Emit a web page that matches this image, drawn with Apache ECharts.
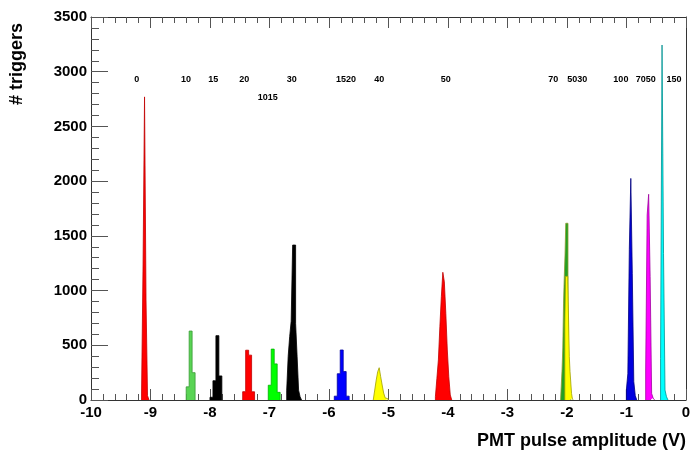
<!DOCTYPE html>
<html><head><meta charset="utf-8">
<script src="https://cdn.jsdelivr.net/npm/echarts@6/dist/echarts.min.js"></script>
<style>html,body{margin:0;padding:0;background:#fff}#c{width:693px;height:458px}</style>
</head><body><div id="c"></div>
<script>
// ---- data ----
const histNames = ['0','10','15','20','1015','30','1520','40','50','70','5030','100','7050','150'];
const histStart = [-9.15, -8.40, -8.00, -7.45, -7.02, -6.71, -5.91, -5.255, -4.21, -2.106, -2.034, -1.00, -0.675, -0.425];
const histWidth = [0.025, 0.05, 0.05, 0.05, 0.05, 0.025, 0.05, 0.025, 0.025, 0.0125, 0.0125, 0.025, 0.025, 0.025];
const cRed0      = [55, 1234, 2770, 914, 40];
const cGreen10   = [120, 630, 250];
const cBlack15   = [25, 176, 588, 220];
const cRed20     = [76, 455, 410, 75];
const cGreen1015 = [135, 465, 330, 70];
const cBlack30   = [90, 400, 580, 720, 1416, 1416, 700, 400, 90, 30];
const cBlue1520  = [35, 240, 457, 260, 35];
const cYellow40  = [18, 91, 183, 259, 295, 213, 137, 64, 20, 10];
const cRed50     = [30, 198, 366, 670, 944, 1167, 1080, 792, 457, 213, 46];
const cGreen70   = [18, 18, 274, 475, 885, 1127, 1325, 1615, 1615, 1615, 900, 300, 100, 30];
const cYellow5030= [700, 1130, 1130, 1130, 1081, 1081, 396, 259, 259, 60, 18];
const cBlue100   = [90, 240, 1377, 2025, 1158, 168, 40];
const cMag7050   = [274, 1690, 1880, 1127, 60, 18];
const cCyan150   = [381, 3244, 1340, 91, 30];
const histCounts = [cRed0, cGreen10, cBlack15, cRed20, cGreen1015, cBlack30, cBlue1520, cYellow40, cRed50, cGreen70, cYellow5030, cBlue100, cMag7050, cCyan150];
const histFill = ['#ff0000','#59d454','#000000','#ff0000','#00ff00','#000000','#0000ff','#ffff00','#ff0000','#22a022','#ffff00','#0000dd','#ff00ff','#00ffff'];
const histLine = ['#c00000','#3a9a36','#000000','#c00000','#00b000','#000000','#0000a0','#a0a000','#c00000','#8a9a30','#a0a000','#000080','#a000a0','#009090'];

const peakLabels = ['0','10','15','20','1015','30','1520','40','50','70','5030','100','7050','150'];
const peakLabelX = [-9.232, -8.403, -7.945, -7.424, -7.030, -6.627, -5.714, -5.155, -4.034, -2.230, -1.827, -1.092, -0.672, -0.197];
const peakLabelY = [2933, 2933, 2933, 2933, 2763, 2933, 2933, 2933, 2933, 2933, 2933, 2933, 2933, 2933];

const xMin = -10, xMax = 0, xStep = 1;
const yMin = 0, yMax = 3500, yStep = 500;

// ---- build ----
const FONT = '"Liberation Sans", Arial, Helvetica, sans-serif';
function histData(start, w, counts) {
  const d = [[start, 0]];
  counts.forEach((c, i) => d.push([start + i * w, c]));
  d.push([start + counts.length * w, 0]);
  return d;
}
const series = histCounts.map((counts, i) => ({
  type: 'line', name: histNames[i], step: 'end', symbol: 'none',
  data: histData(histStart[i], histWidth[i], counts),
  lineStyle: { color: histLine[i], width: 0.8 },
  areaStyle: { color: histFill[i], opacity: 1 },
  silent: true, z: 2 + i * 0.01
}));
series.push({
  type: 'custom', name: 'labels', clip: false, z: 5,
  data: peakLabels.map((t, i) => [peakLabelX[i], peakLabelY[i]]),
  encode: { x: 0, y: 1 },
  renderItem: (params, api) => {
    const p = api.coord([api.value(0), api.value(1)]);
    return { type: 'text', x: p[0], y: p[1], style: {
      text: peakLabels[params.dataIndex], fill: '#000', font: 'bold 9px ' + FONT,
      align: 'center', verticalAlign: 'middle', textAlign: 'center', textVerticalAlign: 'middle' } };
  }
});

const tickColor = '#555';
const axisColor = '#333';
const option = {
  animation: false,
  backgroundColor: '#fff',
  grid: { left: 91, right: 7, top: 17, bottom: 58, containLabel: false },
  xAxis: [{
    type: 'value', min: xMin, max: xMax, interval: xStep, position: 'bottom',
    axisLine: { show: true, onZero: false, lineStyle: { color: axisColor, width: 1 } },
    axisTick: { show: true, inside: true, length: 11, lineStyle: { color: tickColor } },
    minorTick: { show: true, splitNumber: 5, length: 6, lineStyle: { color: tickColor } },
    splitLine: { show: false },
    axisLabel: { margin: 5, fontSize: 15, fontWeight: 'bold', color: '#000', fontFamily: FONT,
      formatter: v => String(v) }
  }, {
    type: 'value', min: xMin, max: xMax, interval: xStep, position: 'top',
    axisLine: { show: true, onZero: false, lineStyle: { color: axisColor, width: 1 } },
    axisTick: { show: true, inside: true, length: 11, lineStyle: { color: tickColor } },
    minorTick: { show: true, splitNumber: 5, length: 6, lineStyle: { color: tickColor } },
    splitLine: { show: false }, axisLabel: { show: false }
  }],
  yAxis: [{
    type: 'value', min: yMin, max: yMax, interval: yStep,
    axisLine: { show: true, onZero: false, lineStyle: { color: axisColor, width: 1 } },
    axisTick: { show: true, inside: true, length: 17, lineStyle: { color: tickColor } },
    minorTick: { show: true, splitNumber: 5, length: 8, lineStyle: { color: tickColor } },
    splitLine: { show: false },
    axisLabel: { margin: 4, fontSize: 15, fontWeight: 'bold', color: '#000', fontFamily: FONT,
      formatter: v => String(v) }
  }, {
    type: 'value', min: yMin, max: yMax, interval: yStep, position: 'right',
    axisLine: { show: true, onZero: false, lineStyle: { color: axisColor, width: 1 } },
    axisTick: { show: false }, splitLine: { show: false }, axisLabel: { show: false }
  }],
  graphic: [{
    type: 'text', x: 17, y: 23, rotation: Math.PI / 2,
    style: { text: '# triggers', font: 'bold 18px ' + FONT, fill: '#000',
      align: 'right', verticalAlign: 'middle', textAlign: 'right', textVerticalAlign: 'middle' }
  }, {
    type: 'text', x: 686, y: 441,
    style: { text: 'PMT pulse amplitude (V)', font: 'bold 18px ' + FONT, fill: '#000',
      align: 'right', verticalAlign: 'middle', textAlign: 'right', textVerticalAlign: 'middle' }
  }],
  series: series
};
const chart = echarts.init(document.getElementById('c'), null, { renderer: 'canvas' });
chart.setOption(option);
</script>
</body></html>
